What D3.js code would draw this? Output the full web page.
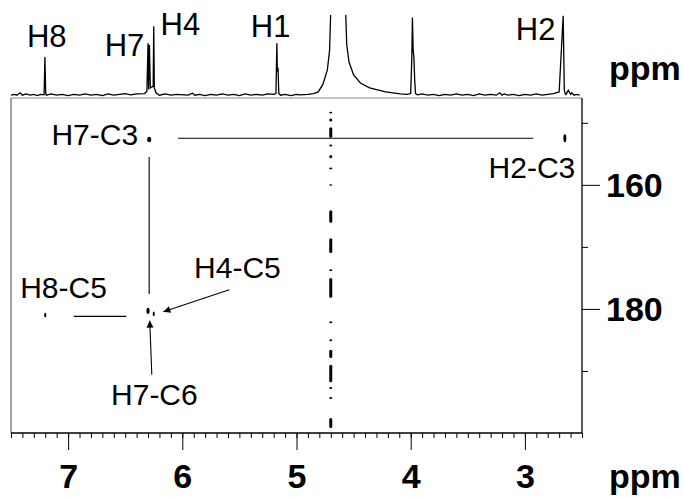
<html>

<head>
    <script src="https://d3js.org/d3.v7.min.js"></script>
    <style>
        body { margin: 0; background: #fff; }
        text { font-family: "Liberation Sans", Arial, sans-serif; }
    </style>
</head>

<body>
    <div id="chart">
        <svg width="683" height="497"></svg>
    </div>
    <script>
        // 1D proton trace (ppm, relative intensity)
        var specPpm = [7.50, 7.47, 7.45, 7.42, 7.40, 7.37, 7.33, 7.30, 7.27, 7.24, 7.21, 7.203, 7.196, 7.19, 7.15, 7.10, 7.05, 7.00,
            6.95, 6.90, 6.85, 6.80, 6.75, 6.70, 6.65, 6.60, 6.55, 6.50, 6.45, 6.40,
            6.33, 6.31, 6.300, 6.295, 6.288, 6.28, 6.255, 6.250, 6.245, 6.23, 6.20, 6.15, 6.10, 6.05, 5.95, 5.91, 5.89, 5.85, 5.80,
            5.75, 5.70, 5.65, 5.60, 5.55, 5.50, 5.45, 5.40, 5.35, 5.30, 5.25, 5.20, 5.18, 5.172, 5.168, 5.162, 5.155, 5.14, 5.10,
            5.05, 5.00, 4.97, 4.90, 4.85, 4.81, 4.77, 4.73, 4.71,
            4.64, 4.56, 4.54, 4.50, 4.44, 4.36, 4.22, 4.09, 4.03, 4.00, 3.99, 3.985, 3.978, 3.972, 3.965, 3.958, 3.94, 3.90, 3.85, 3.80,
            3.75, 3.70, 3.65, 3.60, 3.55, 3.50, 3.45, 3.40, 3.35, 3.30, 3.25, 3.22, 3.20, 3.18, 3.15, 3.10, 3.05, 3.00, 2.95, 2.90,
            2.85, 2.80, 2.75, 2.70, 2.665, 2.655, 2.648, 2.64, 2.62, 2.60, 2.59, 2.57, 2.55, 2.52, 2.50]
        var specInt = [1, 2, 1, 4, 1, 2.5, 1, 2, 0.5, 2, 1.5, 48, 3, 1, 2.5, 1, 2, 0.5,
            2, 1, 2.5, 1, 2, 0.5, 2.5, 1, 2, 3, 1.5, 2.5,
            3, 6, 65, 8, 63, 10, 12, 86, 10, 4, 1, 2.5, 1, 2, 1, 3.5, 1, 2, 0.5,
            2, 1, 2.5, 1, 2, 0.5, 2.5, 1, 2, 1, 2.5, 2, 3, 65, 30, 35, 3, 1, 2,
            0.5, 2, 1.5, 2, 3, 5, 14, 32, 57,
            400, 63, 42, 26, 16, 10, 5, 2.5, 2, 3, 48, 97, 55, 48, 20, 3, 1.5, 2.5, 1, 2,
            0.5, 2, 1, 2.5, 1, 2, 0.5, 2.5, 1, 2, 1, 4, 1, 2.5, 1, 2, 0.5, 2, 1,
            2.5, 1, 2, 3, 5, 99, 8, 3, 2, 7, 2, 4, 1, 2, 1]

        // cross peaks (1H ppm, 13C ppm, linewidths in ppm)
        var crossH = [6.29, 2.65, 7.20, 6.30, 6.25]
        var crossC = [152.7, 152.5, 181.0, 180.3, 180.8]
        var crossWH = [0.035, 0.026, 0.018, 0.028, 0.018]
        var crossWC = [0.9, 1.3, 0.8, 1.0, 0.8]

        // t1 noise streak at the water line: [start, end] in 13C ppm
        var waterH = 4.70
        var waterStreak = [[148.2, 148.5], [149.3, 149.8], [150.7, 152.4], [153.5, 153.8], [155.2, 155.7], [157.2, 157.5],
            [159.9, 160.1], [164.1, 166.1], [168.6, 171.0], [173.6, 173.9], [175.0, 178.2], [182.0, 182.3], [184.9, 185.2],
            [186.6, 187.9], [189.0, 191.8], [192.6, 192.9], [194.2, 194.5], [197.6, 199.2]]

        // peak labels of the 1D trace
        var topLabels = ["H8", "H7", "H4", "H1", "H2"]
        var topLabelPpm = [7.36, 6.68, 6.19, 5.40, 3.08]
        var topLabelInt = [60, 50, 75, 73, 69]

        // cross peak labels
        var crossLabels = ["H7-C3", "H2-C3", "H8-C5", "H4-C5", "H7-C6"]
        var crossLabelPpm = [6.387, 2.559, 7.42, 5.897, 6.624]
        var crossLabelC = [153.6, 158.9, 178.2, 175.0, 195.5]
        var crossLabelAnchor = ["end", "end", "start", "start", "start"]

        // connecting lines and arrows [h1, c1, h2, c2]
        var connectors = [[6.037, 152.5, 2.927, 152.5], [6.29, 155.5, 6.29, 177.6], [6.95, 181.2, 6.49, 181.2]]
        var arrows = [[5.588, 176.9, 6.166, 180.45], [6.267, 190.6, 6.285, 181.9]]

        var xTicksMajor = [7, 6, 5, 4, 3]
        var yTicks = [150, 160, 170, 180, 190]
        var yTickLabels = [160, 180]

        var svg = d3.select("#chart svg")

        var xScale = d3.scaleLinear().domain([7.5, 2.5]).range([11, 582])
        var cScale = d3.scaleLinear().domain([146, 200]).range([98, 433])
        var iScale = d3.scaleLinear().domain([0, 100]).range([96, 15])

        svg.append("defs")
            .append("clipPath").attr("id", "specClip")
            .append("rect").attr("x", 11).attr("y", 15).attr("width", 571).attr("height", 83)
        svg.select("defs")
            .append("marker")
            .attr("id", "arrow")
            .attr("viewBox", "0 0 10 10")
            .attr("refX", 10).attr("refY", 5)
            .attr("markerWidth", 9).attr("markerHeight", 7)
            .attr("markerUnits", "userSpaceOnUse")
            .attr("orient", "auto")
            .append("path").attr("d", "M0,0 L10,5 L0,10 z").attr("fill", "#000")

        // 1D trace
        var specData = specPpm.map(function(d, i) { return [d, specInt[i]] })
        svg.append("path")
            .datum(specData)
            .attr("clip-path", "url(#specClip)")
            .attr("fill", "none")
            .attr("stroke", "#000")
            .attr("stroke-width", 1.3)
            .attr("d", d3.line()
                .x(function(d) { return xScale(d[0]) })
                .y(function(d) { return iScale(d[1]) }))

        svg.selectAll(".toplab")
            .data(topLabels)
            .enter().append("text")
            .attr("class", "toplab")
            .attr("x", function(d, i) { return xScale(topLabelPpm[i]) })
            .attr("y", function(d, i) { return iScale(topLabelInt[i]) })
            .attr("font-size", 31)
            .text(function(d) { return d })

        // frame of the 2D panel
        svg.append("line").attr("x1", 11).attr("x2", 582).attr("y1", 98).attr("y2", 98)
            .attr("stroke", "#888").attr("stroke-width", 1)
        svg.append("line").attr("x1", 11).attr("x2", 11).attr("y1", 98).attr("y2", 433)
            .attr("stroke", "#444").attr("stroke-width", 1)

        // water streak
        svg.selectAll(".streak")
            .data(waterStreak)
            .enter().append("rect")
            .attr("class", "streak")
            .attr("x", xScale(waterH) - 1.5)
            .attr("width", 3)
            .attr("y", function(d) { return cScale(d[0]) })
            .attr("height", function(d) { return Math.max(1.5, cScale(d[1]) - cScale(d[0])) })
            .attr("rx", 1.5)
            .attr("fill", "#000")

        // cross peaks
        svg.selectAll(".cross")
            .data(crossH)
            .enter().append("ellipse")
            .attr("class", "cross")
            .attr("cx", function(d) { return xScale(d) })
            .attr("cy", function(d, i) { return cScale(crossC[i]) })
            .attr("rx", function(d, i) { return Math.abs(xScale(0) - xScale(crossWH[i])) / 2 })
            .attr("ry", function(d, i) { return (cScale(crossWC[i]) - cScale(0)) / 2 })
            .attr("fill", "#000")

        svg.selectAll(".conn")
            .data(connectors)
            .enter().append("line")
            .attr("class", "conn")
            .attr("x1", function(d) { return xScale(d[0]) })
            .attr("y1", function(d) { return cScale(d[1]) })
            .attr("x2", function(d) { return xScale(d[2]) })
            .attr("y2", function(d) { return cScale(d[3]) })
            .attr("stroke", "#000").attr("stroke-width", 1.1)

        svg.selectAll(".arr")
            .data(arrows)
            .enter().append("line")
            .attr("class", "arr")
            .attr("x1", function(d) { return xScale(d[0]) })
            .attr("y1", function(d) { return cScale(d[1]) })
            .attr("x2", function(d) { return xScale(d[2]) })
            .attr("y2", function(d) { return cScale(d[3]) })
            .attr("stroke", "#000").attr("stroke-width", 1.1)
            .attr("marker-end", "url(#arrow)")

        svg.selectAll(".crosslab")
            .data(crossLabels)
            .enter().append("text")
            .attr("class", "crosslab")
            .attr("x", function(d, i) { return xScale(crossLabelPpm[i]) })
            .attr("y", function(d, i) { return cScale(crossLabelC[i]) })
            .attr("text-anchor", function(d, i) { return crossLabelAnchor[i] })
            .attr("font-size", 30)
            .text(function(d) { return d })

        // x axis: minor every 0.1 ppm, major every 1 ppm
        var xAxisMinor = d3.axisBottom(xScale)
            .tickValues(d3.range(25, 76).map(function(d) { return d / 10 }))
            .tickSize(5).tickFormat("")
        var gx = svg.append("g").attr("transform", "translate(0,433)").call(xAxisMinor)
        gx.select(".domain").attr("d", "M11,0H582").attr("stroke-width", 1.3)
        var gxMaj = svg.append("g").attr("transform", "translate(0,433)")
            .call(d3.axisBottom(xScale).tickValues(xTicksMajor).tickSize(17).tickPadding(14).tickFormat(d3.format("d")))
        gxMaj.select(".domain").remove()
        gxMaj.selectAll("text")
            .attr("font-size", 34).attr("font-weight", "bold")
            .attr("font-family", "Liberation Sans, Arial, sans-serif")
            .attr("dy", "0.72em")

        // y axis on the right
        var gy = svg.append("g").attr("transform", "translate(582,0)")
            .call(d3.axisRight(cScale).tickValues(yTicks).tickSize(6).tickFormat(""))
        gy.select(".domain").attr("d", "M0,98V433").attr("stroke-width", 1.3)
        gy.selectAll(".tick line")
            .attr("x2", function(d) { return yTickLabels.indexOf(d) >= 0 ? 18 : 6 })
        svg.selectAll(".ylab")
            .data(yTickLabels)
            .enter().append("text")
            .attr("class", "ylab")
            .attr("x", 606)
            .attr("y", function(d) { return cScale(d) })
            .attr("dy", "0.36em")
            .attr("font-size", 34).attr("font-weight", "bold")
            .text(function(d) { return d })

        svg.append("text").attr("x", 609).attr("y", 80)
            .attr("font-size", 34).attr("font-weight", "bold").text("ppm")
        svg.append("text").attr("x", 609).attr("y", 488)
            .attr("font-size", 34).attr("font-weight", "bold").text("ppm")
    </script>

</body>

</html>
